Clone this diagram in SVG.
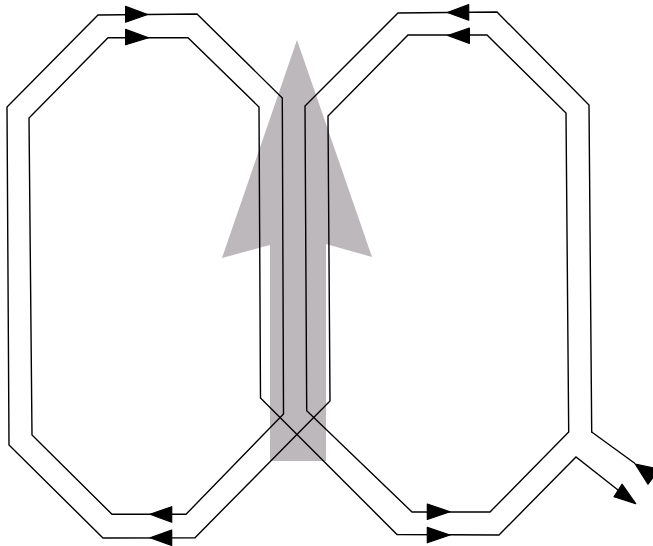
<svg xmlns="http://www.w3.org/2000/svg" width="653" height="546" viewBox="0 0 653 546">
<style>
.w{fill:none;stroke:#000;stroke-width:1.4;stroke-linejoin:miter;stroke-linecap:round}
.h{fill:#000;stroke:#000;stroke-width:1.2;stroke-linejoin:round}
</style>
<rect width="653" height="546" fill="#fff"/>
<g id="field-arrow">
<path d="M297 40L372 257L326 244V461H270V245L222 258Z" fill="#bcb8bc"/>
</g>
<g id="connectors">
<path class="w" d="M591.7 432L634.7 463.3"/>
<path class="w" d="M591.7 432L589 105L497 12L398 13L305 106L306.7 410.7L412 512H490L568.7 432L566 113L487 35H408L328 116L330 401L195 537.7L103 538L9 445L7 107L98 15L197 14L282.3 98L283.5 414L186 514.3H112L32 435L29 118L108 37.7H188L259 107L260.5 398L397 534.5L499 535L576 457L618 490"/>
<polygon class="h" points="125.6,6.4 147.6,14.5 125.6,22.2"/>
<polygon class="h" points="125.6,29.4 148.6,37.7 125.6,44.8"/>
<polygon class="h" points="468.7,4.5 447.4,12.5 468.7,20.2"/>
<polygon class="h" points="469.4,28 447.7,35.5 469.4,43.4"/>
<polygon class="h" points="171.7,506.7 150,514.3 171.7,522.2"/>
<polygon class="h" points="171.7,530 150,537.7 171.7,545.5"/>
<polygon class="h" points="427.3,504 450,511.7 427.3,519.5"/>
<polygon class="h" points="427.3,527.4 450,535 427.3,542.8"/>
<polygon class="h" points="622,484.2 635.7,503.7 614,496.7"/>
<polygon class="h" points="635.2,464 648,484.2 654,476 654,468"/>
</g>
</svg>
